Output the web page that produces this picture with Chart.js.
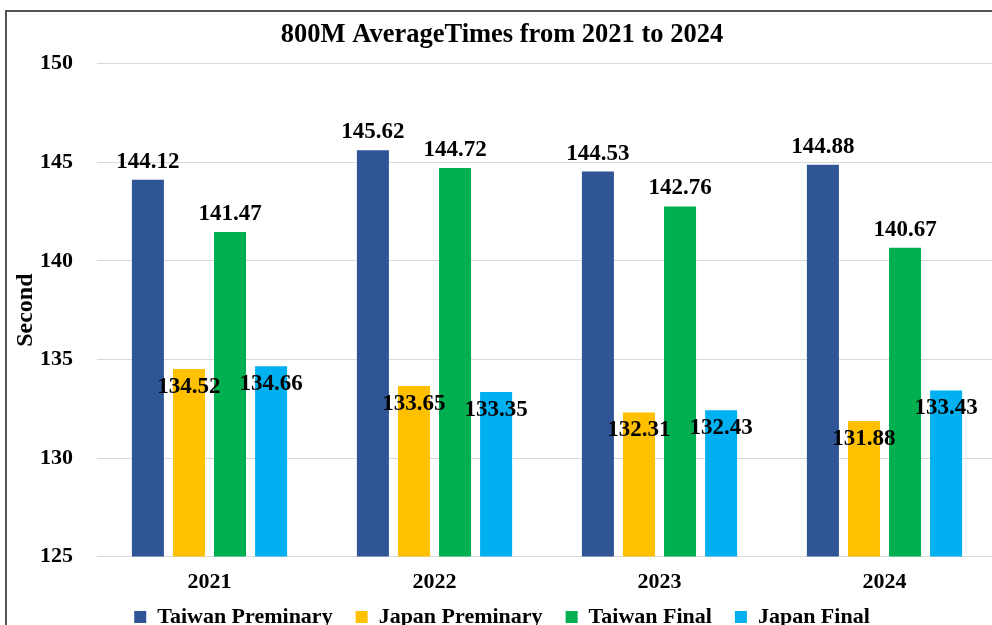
<!DOCTYPE html>
<html>
<head>
<meta charset="utf-8">
<script src="https://cdn.jsdelivr.net/npm/chart.js@4"></script>
<style>
  html, body { margin: 0; padding: 0; background: #fff; overflow: hidden; }
  #frame {
    position: absolute; left: 5px; top: 10px;
    border-left: 2px solid #555; border-top: 2px solid #555;
    width: 1010px; height: 680px;
  }
</style>
</head>
<body>
<div id="frame">
  <canvas id="barChart" width="990" height="652"></canvas>
</div>
<script>
const years = ['2021', '2022', '2023', '2024'];
const taiwanPreliminary = [144.12, 145.62, 144.53, 144.88];
const japanPreliminary = [134.52, 133.65, 132.31, 131.88];
const taiwanFinal = [141.47, 144.72, 142.76, 140.67];
const japanFinal = [134.66, 133.35, 132.43, 133.43];
const yTicks = [125, 130, 135, 140, 145, 150];

const serif = '"Liberation Serif", "Times New Roman", serif';

// value labels: Taiwan above the bar, Japan just under the bar top
const valueLabels = {
    id: 'valueLabels',
    afterDatasetsDraw(chart) {
        const ctx = chart.ctx;
        ctx.save();
        ctx.font = 'bold 23px ' + serif;
        ctx.fillStyle = '#000';
        ctx.textAlign = 'center';
        ctx.textBaseline = 'middle';
        chart.data.datasets.forEach(function(ds, i) {
            const meta = chart.getDatasetMeta(i);
            meta.data.forEach(function(bar, j) {
                const above = (i === 0 || i === 2);
                const y = above ? bar.y - 18 : bar.y + 18;
                ctx.fillText(ds.data[j].toFixed(2), bar.x, y);
            });
        });
        ctx.restore();
    }
};

// pull the legend a bit closer to the year labels
const legendNudge = {
    id: 'legendNudge',
    afterLayout(chart) {
        chart.legend.top -= 26;
        chart.legend.bottom -= 26;
    }
};

const ctx = document.getElementById('barChart').getContext('2d');
new Chart(ctx, {
    type: 'bar',
    data: {
        labels: years,
        datasets: [{
            label: 'Taiwan Preminary',
            data: taiwanPreliminary,
            backgroundColor: '#2F5597'
        }, {
            label: 'Japan Preminary',
            data: japanPreliminary,
            backgroundColor: '#FFC000'
        }, {
            label: 'Taiwan Final',
            data: taiwanFinal,
            backgroundColor: '#00B050'
        }, {
            label: 'Japan Final',
            data: japanFinal,
            backgroundColor: '#00B0F0'
        }]
    },
    options: {
        responsive: false,
        animation: false,
        datasets: {
            bar: { categoryPercentage: 0.73, barPercentage: 0.78 }
        },
        layout: { padding: 0 },
        plugins: {
            title: {
                display: true,
                text: '800M AverageTimes from 2021 to 2024',
                color: '#000',
                font: { family: serif, size: 26.5, weight: 'bold' },
                padding: { top: 7, bottom: 13 }
            },
            legend: {
                position: 'bottom',
                labels: {
                    color: '#000',
                    boxWidth: 12,
                    boxHeight: 12,
                    padding: 23,
                    font: { family: serif, size: 22, weight: 'bold' }
                }
            },
            tooltip: { enabled: false }
        },
        scales: {
            x: {
                grid: { display: false, drawTicks: false },
                border: { display: true, color: '#d9d9d9' },
                ticks: {
                    color: '#000',
                    padding: 13,
                    font: { family: serif, size: 22, weight: 'bold' }
                }
            },
            y: {
                min: yTicks[0],
                max: yTicks[yTicks.length - 1],
                afterBuildTicks: function(axis) {
                    axis.ticks = yTicks.map(function(v) { return { value: v }; });
                },
                afterFit: function(axis) { axis.width = 90; },
                grid: { color: '#d9d9d9', drawTicks: false },
                border: { display: false },
                ticks: {
                    color: '#000',
                    padding: 24,
                    font: { family: serif, size: 22, weight: 'bold' }
                },
                title: {
                    display: true,
                    text: 'Second',
                    color: '#000',
                    padding: { top: 4, bottom: 0 },
                    font: { family: serif, size: 24, weight: 'bold' }
                }
            }
        }
    },
    plugins: [valueLabels, legendNudge]
});
</script>
</body>
</html>
